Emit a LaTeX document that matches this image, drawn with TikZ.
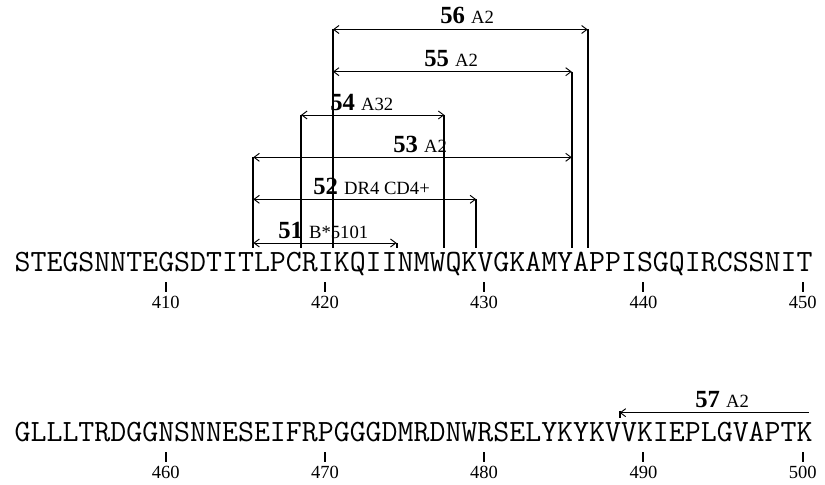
\documentclass[tikz,border=0pt]{standalone}
\usepackage{fontspec}
\setmainfont{Liberation Serif}
\usetikzlibrary{arrows.meta}

\newcommand{\seqfont}{\fontsize{23.24}{24}\selectfont\ttfamily}
\newcommand{\epinum}[1]{{\bfseries #1}}
\newcommand{\allele}[1]{{\fontsize{14}{16}\selectfont #1}}

\tikzset{
  epitope/.style={line width=0.7pt, {Straight Barb[length=4pt,width=6pt]}-{Straight Barb[length=4pt,width=6pt]}},
  leftepitope/.style={line width=0.7pt, {Straight Barb[length=4pt,width=6pt]}-},
  bound/.style={line width=1.4pt},
  seqtick/.style={line width=1.4pt},
  posnum/.style={font=\fontsize{13.9}{15}\selectfont, inner sep=0pt, below=2.6pt},
  epilabel/.style={font=\fontsize{18.5}{20}\selectfont, inner sep=0pt, anchor=base west}
}

\begin{document}
\begin{tikzpicture}[x=0.75pt,y=-0.75pt]
\useasboundingbox (0,0) rectangle (825,485);

% Sequence lines
\node[anchor=base west, inner sep=0pt, font=\seqfont] (seqA) at (14.4,271) {STEGSNNTEGSDTITLPCRIKQIINMWQKVGKAMYAPPISGQIRCSSNIT};
\node[anchor=base west, inner sep=0pt, font=\seqfont] (seqB) at (14.4,441) {GLLLTRDGGNSNNESEIFRPGGGDMRDNWRSELYKYKVVKIEPLGVAPTK};

% Position ticks
\draw[seqtick] (165.7,282) -- (165.7,292) node[posnum] (n410) {410};
\draw[seqtick] (324.9,282) -- (324.9,292) node[posnum] (n420) {420};
\draw[seqtick] (484.1,282) -- (484.1,292) node[posnum] (n430) {430};
\draw[seqtick] (643.4,282) -- (643.4,292) node[posnum] (n440) {440};
\draw[seqtick] (802.7,282) -- (802.7,292) node[posnum] (n450) {450};
\draw[seqtick] (165.7,452) -- (165.7,462) node[posnum] (n460) {460};
\draw[seqtick] (324.9,452) -- (324.9,462) node[posnum] (n470) {470};
\draw[seqtick] (484.1,452) -- (484.1,462) node[posnum] (n480) {480};
\draw[seqtick] (643.4,452) -- (643.4,462) node[posnum] (n490) {490};
\draw[seqtick] (802.7,452) -- (802.7,462) node[posnum] (n500) {500};

% Epitope ends
\coordinate (rimA) at (0,248);
\coordinate (rimB) at (0,418);
\coordinate (a51) at (253.3,243);   \coordinate (b51) at (396.6,243);
\coordinate (a52) at (253.3,199.3); \coordinate (b52) at (476.2,199.3);
\coordinate (a53) at (253.3,157.3); \coordinate (b53) at (571.8,157.3);
\coordinate (a54) at (301.05,115);  \coordinate (b54) at (444.4,115);
\coordinate (a55) at (332.9,71.7);  \coordinate (b55) at (571.8,71.7);
\coordinate (a56) at (332.9,29.5);  \coordinate (b56) at (587.7,29.5);
\coordinate (a57) at (619.6,412.7); \coordinate (b57) at (809,412.7);

% Boundary lines
\draw[bound] (a53) -- (a53 |- rimA);
\draw[bound] (a54) -- (a54 |- rimA);
\draw[bound] (a56) -- (a56 |- rimA);
\draw[bound] (b51) -- (b51 |- rimA);
\draw[bound] (b52) -- (b52 |- rimA);
\draw[bound] (b54) -- (b54 |- rimA);
\draw[bound] (b55) -- (b55 |- rimA);
\draw[bound] (b56) -- (b56 |- rimA);
\draw[bound] (619.6,410.5) -- (a57 |- rimB);

% Epitope arrows
\draw[epitope] (a51) -- (b51);
\draw[epitope] (a52) -- (b52);
\draw[epitope] (a53) -- (b53);
\draw[epitope] (a54) -- (b54);
\draw[epitope] (a55) -- (b55);
\draw[epitope] (a56) -- (b56);
\draw[leftepitope] (a57) -- (b57);

% Labels
\node[epilabel] (l51) at (278,238) {\epinum{51} \allele{B*5101}};
\node[epilabel] (l52) at (313,194.5) {\epinum{52} \allele{DR4 CD4+}};
\node[epilabel] (l53) at (393,152.5) {\epinum{53} \allele{A2}};
\node[epilabel] (l54) at (330,110) {\epinum{54} \allele{A32}};
\node[epilabel] (l55) at (424,67) {\epinum{55} \allele{A2}};
\node[epilabel] (l56) at (440,23.5) {\epinum{56} \allele{A2}};
\node[epilabel] (l57) at (695,407.5) {\epinum{57} \allele{A2}};
\end{tikzpicture}
\end{document}
